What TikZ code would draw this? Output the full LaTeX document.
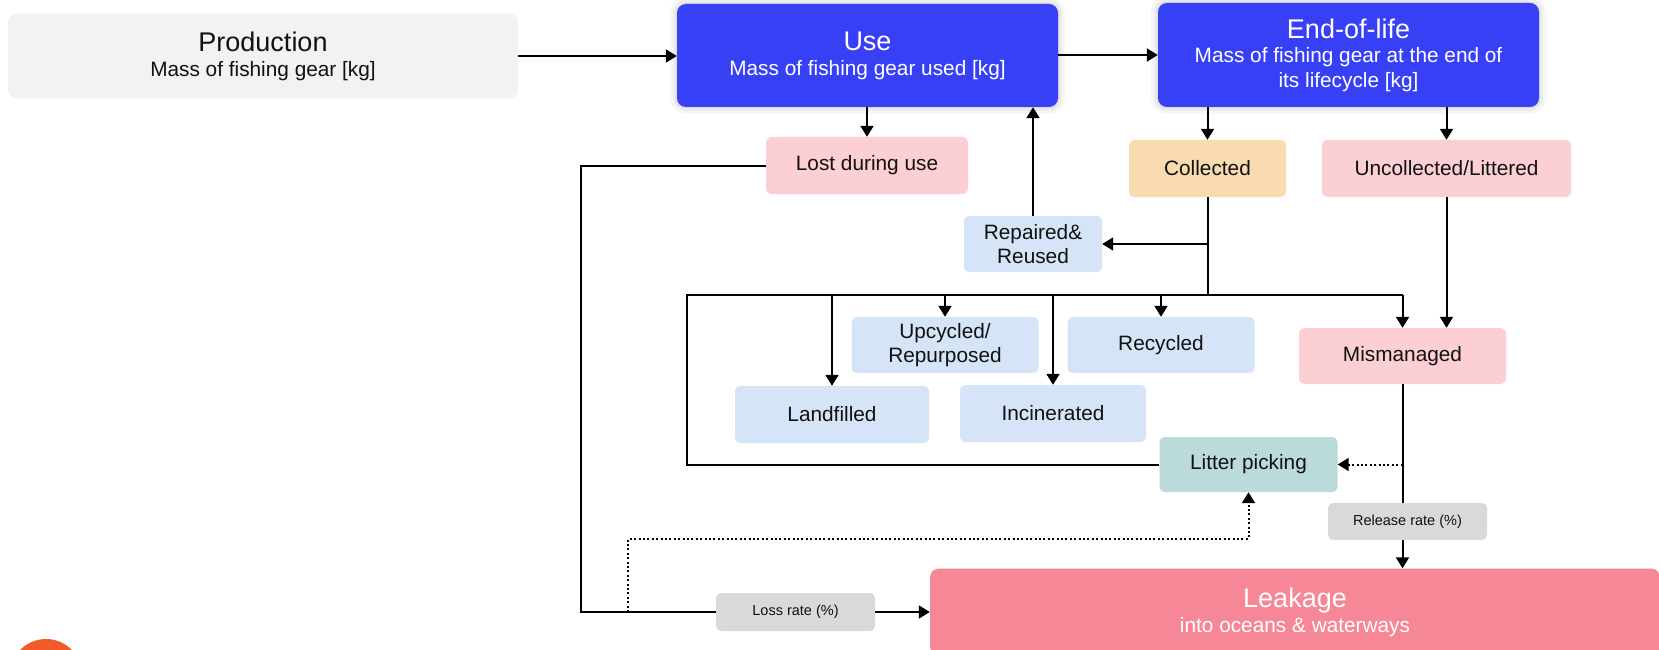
\documentclass[tikz,border=0pt]{standalone}
\usepackage{fontspec}
\setmainfont{Liberation Sans}
\usetikzlibrary{arrows.meta}
\definecolor{prodgray}{RGB}{242,242,242}
\definecolor{mainblue}{RGB}{55,64,244}
\definecolor{pinkbox}{RGB}{252,207,213}
\definecolor{peach}{RGB}{248,220,176}
\definecolor{lightblue}{RGB}{213,229,247}
\definecolor{teal}{RGB}{187,218,218}
\definecolor{rategray}{RGB}{217,217,217}
\definecolor{leakpink}{RGB}{246,135,150}
\definecolor{orangedot}{RGB}{241,90,41}
\definecolor{txt}{RGB}{17,17,17}
\begin{document}
\begin{tikzpicture}[x=1pt,y=-1pt,
  box/.style={rectangle, rounded corners=5pt, inner sep=0pt, align=center, text=txt,
    font=\fontsize{20.8}{24}\selectfont},
  bigbox/.style={box, rounded corners=9pt, font=\fontsize{20.8}{24.5}\selectfont},
  bluebox/.style={bigbox, fill=mainblue, text=white,
    preaction={draw=black, draw opacity=0.035, line width=14pt},
    preaction={draw=black, draw opacity=0.04, line width=8pt},
    preaction={draw=black, draw opacity=0.05, line width=3pt}},
  ratebox/.style={box, fill=rategray, font=\fontsize{14.5}{17}\selectfont},
  ln/.style={line width=2pt, draw=black},
  arr/.style={ln, -{Triangle[length=11pt,width=13pt]}},
  dotarr/.style={arr, dash pattern=on 2pt off 2.4pt}]
\clip (0,0) rectangle (1659,650);
\fill[white] (0,0) rectangle (1659,650);

% main stages
\node[bigbox, fill=prodgray, minimum width=510, minimum height=85] (prod) at (263,56)
  {{\fontsize{27}{25}\selectfont Production}\\[0.5pt]Mass of fishing gear [kg]};
\node[bluebox, minimum width=381, minimum height=103] (use) at (867.5,55.5)
  {{\fontsize{27}{25}\selectfont Use}\\[0.5pt]Mass of fishing gear used [kg]};
\node[bluebox, minimum width=381, minimum height=104] (eol) at (1348.5,55)
  {{\fontsize{27}{25}\selectfont End-of-life}\\[0pt]Mass of fishing gear at the end of\\its lifecycle [kg]};

% second row
\node[box, fill=pinkbox, minimum width=202, minimum height=57] (lost) at (867,165.5) {Lost during use};
\node[box, fill=peach, minimum width=157, minimum height=57] (coll) at (1207.5,168.5) {Collected};
\node[box, fill=pinkbox, minimum width=249, minimum height=57] (uncol) at (1446.5,168.5) {Uncollected/Littered};
\node[box, fill=lightblue, minimum width=138, minimum height=56] (rep) at (1033,244) {Repaired\&\\Reused};

% treatment boxes
\node[box, fill=lightblue, minimum width=187, minimum height=56] (upc) at (945,345) {Upcycled/\\Repurposed};
\node[box, fill=lightblue, minimum width=187, minimum height=56] (recy) at (1161,345) {Recycled};
\node[box, fill=lightblue, minimum width=194, minimum height=57] (landf) at (832,414.5) {Landfilled};
\node[box, fill=lightblue, minimum width=186, minimum height=57] (incin) at (1053,413.5) {Incinerated};
\node[box, fill=pinkbox, minimum width=207, minimum height=56] (mism) at (1402.5,356) {Mismanaged};
\node[box, fill=teal, minimum width=178, minimum height=55] (litter) at (1248.5,464.5) {Litter picking};

% rates and leakage
\node[ratebox, minimum width=159, minimum height=37] (rel) at (1407.5,521.5) {Release rate (\%)};
\node[ratebox, minimum width=159, minimum height=38] (loss) at (795.5,612) {Loss rate (\%)};
\node[bigbox, fill=leakpink, text=white, minimum width=730, minimum height=87] (leak) at (1295,612)
  {{\fontsize{27}{25}\selectfont Leakage}\\[0.5pt]into oceans \& waterways};

% decorative circle
\fill[orangedot] (46,675) circle (36);

% coordinates
\coordinate (busL) at (687,295);
\coordinate (busR) at (mism.north |- busL);
\coordinate (lossL) at (581,612);
\coordinate (dotA) at (628,612);
\coordinate (dotB) at (628,539);

% connectors
\draw[arr] (prod.east) -- (prod.east -| use.west);
\draw[arr] (use.east |- eol.west) -- (eol.west);
\draw[arr] (lost.north |- use.south) -- (lost.north);
\draw[arr] (rep.north) -- (rep.north |- use.south);
\draw[arr] (coll.north |- eol.south) -- (coll.north);
\draw[arr] (uncol.north |- eol.south) -- (uncol.north);
\draw[ln] (coll.south) -- (coll.south |- busL);
\draw[arr] (coll.south |- rep.east) -- (rep.east);
\draw[ln] (litter.west) -| (busL) -- (busR);
\draw[arr] (busR) -- (mism.north);
\draw[arr] (landf.north |- busL) -- (landf.north);
\draw[arr] (upc.north |- busL) -- (upc.north);
\draw[arr] (incin.north |- busL) -- (incin.north);
\draw[arr] (recy.north |- busL) -- (recy.north);
\draw[arr] (uncol.south) -- (uncol.south |- mism.north);
\draw[ln] (mism.south) -- (mism.south |- rel.north);
\draw[arr] (mism.south |- rel.south) -- (mism.south |- leak.north);
\draw[dotarr] (mism.south |- litter.east) -- (litter.east);
\draw[ln] (lost.west) -| (lossL) -- (loss.west);
\draw[arr] (loss.east) -- (loss.east -| leak.west);
\draw[dotarr] (dotA) -- (dotB) -| (litter.south);
\end{tikzpicture}
\end{document}
